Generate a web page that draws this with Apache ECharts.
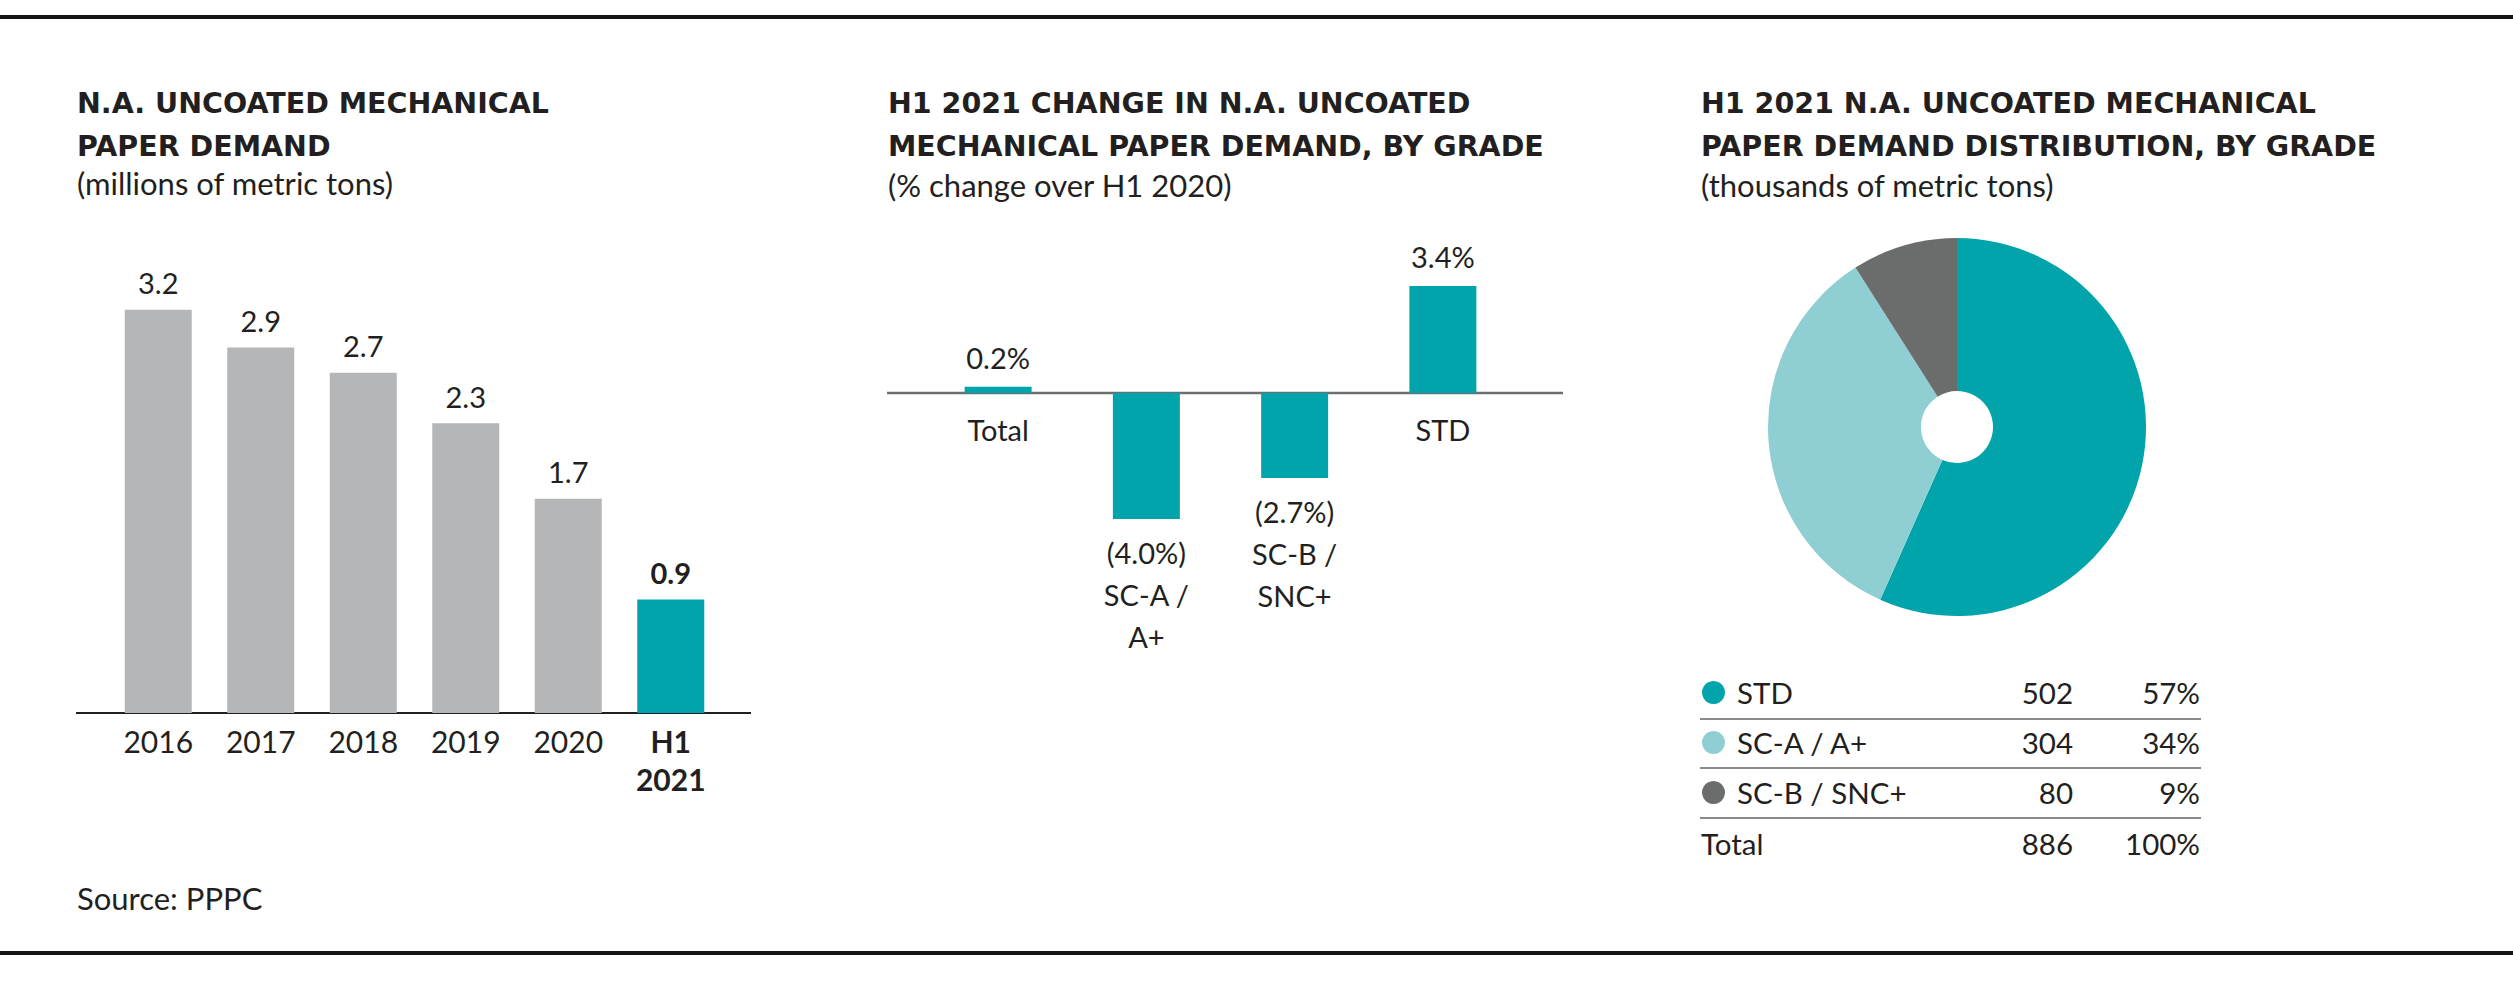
<!DOCTYPE html>
<html>
<head>
<meta charset="utf-8">
<script src="https://cdn.jsdelivr.net/npm/echarts@6/dist/echarts.min.js"></script>
<style>
html,body{margin:0;padding:0;background:#fff;}
#chart{width:2513px;height:989px;}
</style>
</head>
<body>
<div id="chart"></div>
<script>
// ---- data ----
const demandYears = ['2016', '2017', '2018', '2019', '2020', 'H1\n2021'];
const demandValues = [3.2, 2.9, 2.7, 2.3, 1.7, 0.9];
const gradeNames = ['Total', 'SC-A /\nA+', 'SC-B /\nSNC+', 'STD'];
const gradeChange = [0.2, -4.0, -2.7, 3.4];
const distNames = ['STD', 'SC-A / A+', 'SC-B / SNC+'];
const distValues = [502, 304, 80];

// ---- styles ----
const FONT = 'Lato, "Noto Sans", sans-serif';
const TITLE_FONT = '"DejaVu Sans", Lato, sans-serif';
const INK = '#231F20';
const TEAL = '#00A4AA';
const GREY = '#B5B6B8';
const AXIS2 = '#6D6E71';
const distColors = ['#00A4AA', '#8FCFD3', '#6B6D6D'];

const distTotal = distValues.reduce((a, b) => a + b, 0);
const distPct = distValues.map(v => Math.round(v / distTotal * 100));

const chart = echarts.init(document.getElementById('chart'), null, {renderer: 'svg'});

const titleStyle = {fontFamily: TITLE_FONT, fontWeight: 'bold', fontSize: 28.5, lineHeight: 43, color: INK};
const subStyle = {fontFamily: FONT, fontWeight: 'normal', fontSize: 31, lineHeight: 36, color: INK};
const TBL = 29.5;

const option = {
  animation: false,
  backgroundColor: '#fff',
  title: [
    {text: 'N.A. UNCOATED MECHANICAL\nPAPER DEMAND', left: 77, top: 82, padding: 0, textStyle: titleStyle},
    {text: '(millions of metric tons)', left: 77, top: 165, padding: 0, textStyle: subStyle},
    {text: 'H1 2021 CHANGE IN N.A. UNCOATED\nMECHANICAL PAPER DEMAND, BY GRADE', left: 888, top: 82, padding: 0, textStyle: titleStyle},
    {text: '(% change over H1 2020)', left: 888, top: 167, padding: 0, textStyle: subStyle},
    {text: 'H1 2021 N.A. UNCOATED MECHANICAL\nPAPER DEMAND DISTRIBUTION, BY GRADE', left: 1701, top: 82, padding: 0, textStyle: titleStyle},
    {text: '(thousands of metric tons)', left: 1701, top: 167, padding: 0, textStyle: subStyle},
    {text: 'Source: PPPC', left: 77, top: 880, padding: 0, textStyle: subStyle}
  ],
  grid: [
    {left: 107, top: 272, width: 615, height: 441},
    // bottom edge of this grid is the zero line; negative bars extend below it (clip: false)
    {left: 924, top: 267, width: 593, height: 126}
  ],
  xAxis: [
    {
      gridIndex: 0, type: 'category',
      data: demandYears.map((y, i) => i === demandYears.length - 1 ? {value: y, textStyle: {fontWeight: 'bold'}} : y),
      axisLine: {show: false}, axisTick: {show: false}, splitLine: {show: false},
      axisLabel: {interval: 0, margin: 9, fontFamily: FONT, fontSize: 30, lineHeight: 38, color: INK}
    },
    {
      gridIndex: 1, type: 'category', data: gradeNames,
      axisLine: {show: false}, axisTick: {show: false}, splitLine: {show: false},
      axisLabel: {
        interval: 0, margin: 21, fontFamily: FONT, fontSize: 29, lineHeight: 30, color: INK,
        formatter: (v, i) => gradeChange[i] >= 0 ? v : ''
      }
    }
  ],
  yAxis: [
    {gridIndex: 0, type: 'value', min: 0, max: 3.5, show: false},
    {gridIndex: 1, type: 'value', min: 0, max: 4, show: false}
  ],
  legend: {
    orient: 'vertical', left: 1702, top: 677.5, padding: 0,
    itemWidth: 23, itemHeight: 23, itemGap: 20, icon: 'circle', selectedMode: false,
    data: distNames,
    formatter: name => {
      const i = distNames.indexOf(name);
      return '{n|' + name + '}{v|' + distValues[i] + '}{p|' + distPct[i] + '%}';
    },
    textStyle: {
      fontFamily: FONT, fontSize: TBL, color: INK,
      rich: {
        n: {fontFamily: FONT, fontSize: TBL, color: INK, lineHeight: 30, width: 229, padding: [0, 0, 0, 7]},
        v: {fontFamily: FONT, fontSize: TBL, color: INK, lineHeight: 30, width: 107, align: 'right'},
        p: {fontFamily: FONT, fontSize: TBL, color: INK, lineHeight: 30, width: 127, align: 'right'}
      }
    }
  },
  series: [
    {
      type: 'bar', xAxisIndex: 0, yAxisIndex: 0, barWidth: 67, silent: true,
      data: demandValues.map((v, i) => {
        const last = i === demandValues.length - 1;
        return {value: v, itemStyle: {color: last ? TEAL : GREY}, label: {fontWeight: last ? 'bold' : 'normal'}};
      }),
      label: {
        show: true, position: 'top', distance: 12,
        fontFamily: FONT, fontSize: 29, lineHeight: 30, color: INK,
        formatter: p => p.value.toFixed(1)
      }
    },
    {
      type: 'bar', xAxisIndex: 1, yAxisIndex: 1, barWidth: 67, silent: true, clip: false,
      itemStyle: {color: TEAL},
      data: gradeChange.map(v => ({
        value: v,
        label: v >= 0 ? {position: 'top', distance: 8} : {position: 'bottom', distance: 12}
      })),
      label: {
        show: true, fontFamily: FONT, fontSize: 29, lineHeight: 42, color: INK, align: 'center',
        formatter: p => p.value >= 0 ? p.value.toFixed(1) + '%' : '(' + Math.abs(p.value).toFixed(1) + '%)\n' + p.name
      }
    },
    {
      type: 'pie', center: [1957, 427], radius: [36, 189], startAngle: 90, clockwise: true,
      silent: true, label: {show: false}, labelLine: {show: false},
      data: distNames.map((n, i) => ({name: n, value: distValues[i], itemStyle: {color: distColors[i]}}))
    }
  ],
  graphic: [
    {type: 'line', shape: {x1: 0, y1: 17, x2: 2513, y2: 17}, style: {stroke: '#141414', lineWidth: 4}},
    {type: 'line', shape: {x1: 0, y1: 953, x2: 2513, y2: 953}, style: {stroke: '#141414', lineWidth: 4}},
    {type: 'line', shape: {x1: 76, y1: 713, x2: 751, y2: 713}, style: {stroke: INK, lineWidth: 2}},
    {type: 'line', shape: {x1: 887, y1: 393, x2: 1563, y2: 393}, style: {stroke: AXIS2, lineWidth: 2.5}},
    {type: 'line', shape: {x1: 1700, y1: 719, x2: 2201, y2: 719}, style: {stroke: '#8A8A8A', lineWidth: 2}},
    {type: 'line', shape: {x1: 1700, y1: 768, x2: 2201, y2: 768}, style: {stroke: '#8A8A8A', lineWidth: 2}},
    {type: 'line', shape: {x1: 1700, y1: 818, x2: 2201, y2: 818}, style: {stroke: '#8A8A8A', lineWidth: 2}},
    {type: 'text', x: 1701, y: 843, style: {text: 'Total', fontFamily: FONT, fontSize: TBL, fill: INK, align: 'left', verticalAlign: 'middle'}},
    {type: 'text', x: 2073, y: 843, style: {text: String(distTotal), fontFamily: FONT, fontSize: TBL, fill: INK, align: 'right', verticalAlign: 'middle'}},
    {type: 'text', x: 2200, y: 843, style: {text: '100%', fontFamily: FONT, fontSize: TBL, fill: INK, align: 'right', verticalAlign: 'middle'}}
  ]
};
chart.setOption(option);
</script>
</body>
</html>
